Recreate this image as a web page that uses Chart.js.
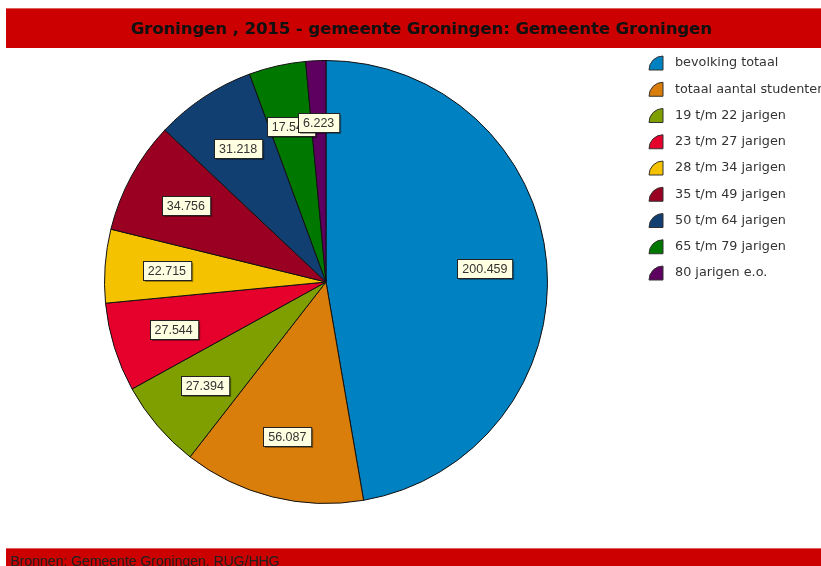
<!DOCTYPE html>
<html>
<head>
<meta charset="utf-8">
<script src="https://cdn.jsdelivr.net/npm/chart.js@4"></script>
<style>
  html, body { margin:0; padding:0; background:#fff; overflow:hidden; }
  #wrap { position:relative; width:821px; height:566px; overflow:hidden; }
  .bar { position:absolute; left:6px; right:0; background:#cc0000; border-top:1px solid #e06060; }
  #title { top:8px; height:39px; font:bold 16.4px "DejaVu Sans", sans-serif; line-height:40px; text-align:center; padding-left:15px; color:#111; }
  #footer { top:548px; height:20px; font:14px "Liberation Sans", Arial, sans-serif; line-height:25px; padding-left:4px; color:#222; }
  #box { position:absolute; left:0; top:48px; width:821px; height:500px; }
</style>
</head>
<body>
<div id="wrap">
  <div class="bar" id="title">Groningen , 2015 - gemeente Groningen: Gemeente Groningen</div>
  <div id="box"><canvas id="pie" width="821" height="500"></canvas></div>
  <div class="bar" id="footer">Bronnen: Gemeente Groningen, RUG/HHG</div>
</div>
<script>
// categories and values (aantal personen)
const labels = ['bevolking totaal','totaal aantal studenten','19 t/m 22 jarigen','23 t/m 27 jarigen','28 t/m 34 jarigen','35 t/m 49 jarigen','50 t/m 64 jarigen','65 t/m 79 jarigen','80 jarigen e.o.'];
const values = [200459, 56087, 27394, 27544, 22715, 34756, 31218, 17546, 6223];
const valueLabels = ['200.459','56.087','27.394','27.544','22.715','34.756','31.218','17.546','6.223'];
const colors = ['#0081c2','#d97d0b','#7f9f00','#e6002c','#f5c200','#9a0022','#123f72','#007800','#5e005f'];

// value boxes inside the slices
const boxLabels = {
  id: 'boxLabels',
  afterDatasetsDraw(chart){
    const ctx = chart.ctx;
    const meta = chart.getDatasetMeta(0);
    ctx.save();
    ctx.font = '12.5px "Liberation Sans", Arial, sans-serif';
    ctx.textAlign = 'center';
    ctx.textBaseline = 'middle';
    meta.data.forEach((arc, i) => {
      const mid = (arc.startAngle + arc.endAngle) / 2;
      const r = arc.outerRadius * 0.72;
      const x = arc.x + Math.cos(mid) * r;
      const y = arc.y + Math.sin(mid) * r;
      const w = ctx.measureText(valueLabels[i]).width + 10;
      const h = 19;
      const bx = Math.round(x - w/2) + 0.5, by = Math.round(y - h/2) + 0.5;
      ctx.fillStyle = 'rgba(0,0,0,0.35)';
      ctx.fillRect(bx + 1.5, by + 1.5, w, h);
      ctx.fillStyle = '#ffffe1';
      ctx.fillRect(bx, by, w, h);
      ctx.strokeStyle = '#222';
      ctx.lineWidth = 1;
      ctx.strokeRect(bx, by, w, h);
      ctx.fillStyle = '#333';
      ctx.fillText(valueLabels[i], x, y + 1);
    });
    ctx.restore();
  }
};

// legend at the right with wedge shaped swatches
const wedgeLegend = {
  id: 'wedgeLegend',
  afterDraw(chart){
    const ctx = chart.ctx;
    ctx.save();
    ctx.font = '12.8px "DejaVu Sans", Verdana, sans-serif';
    ctx.textBaseline = 'middle';
    labels.forEach((lab, i) => {
      const cy = 15 + i * 26.25;
      const x0 = 649, y0 = cy - 7, s = 14;
      ctx.beginPath();
      ctx.moveTo(x0 + s, y0 + s);
      ctx.lineTo(x0, y0 + s);
      ctx.arc(x0 + s, y0 + s, s, Math.PI, Math.PI * 1.5);
      ctx.closePath();
      ctx.fillStyle = colors[i];
      ctx.fill();
      ctx.strokeStyle = '#333';
      ctx.lineWidth = 1;
      ctx.stroke();
      ctx.fillStyle = '#333';
      ctx.fillText(lab, 675, cy);
    });
    ctx.restore();
  }
};

new Chart(document.getElementById('pie'), {
  type: 'pie',
  data: {
    labels: labels,
    datasets: [{
      data: values,
      backgroundColor: colors,
      borderColor: '#111',
      borderWidth: 1
    }]
  },
  options: {
    responsive: false,
    animation: false,
    layout: { padding: { left: 104, right: 273, top: 12, bottom: 44 } },
    plugins: { legend: { display: false }, tooltip: { enabled: false } }
  },
  plugins: [boxLabels, wedgeLegend]
});
</script>
</body>
</html>
